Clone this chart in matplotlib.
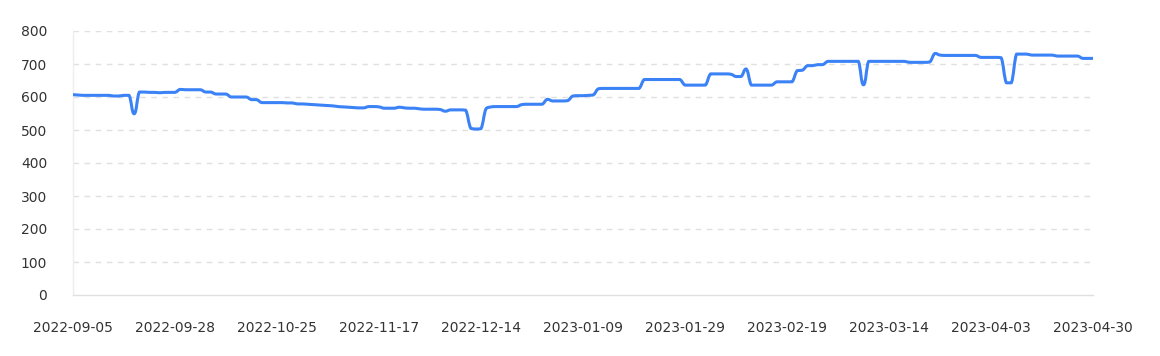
import matplotlib
matplotlib.use("Agg")
import matplotlib.pyplot as plt
from matplotlib.path import Path
from matplotlib.patches import PathPatch
import numpy as np

tick_labels = ["2022-09-05", "2022-09-28", "2022-10-25", "2022-11-17", "2022-12-14",
               "2023-01-09", "2023-01-29", "2023-02-19", "2023-03-14", "2023-04-03",
               "2023-04-30"]
label_every = 20

values = [
    607, 606, 605, 605, 605, 605, 605, 605, 603, 603,
    605, 605, 549, 615, 615, 614, 614, 613, 614, 614,
    614, 623, 622, 622, 622, 622, 615, 615, 609, 609,
    609, 600, 600, 600, 600, 592, 592, 583, 583, 583,
    583, 583, 582, 582, 579, 579, 578, 577, 576, 575,
    574, 573, 571, 570, 569, 568, 567, 567, 571, 571,
    570, 566, 566, 566, 569, 567, 566, 566, 564, 563,
    563, 563, 562, 557, 561, 561, 561, 560, 505, 503,
    504, 565, 570, 571, 571, 571, 571, 571, 577, 578,
    578, 578, 578, 593, 588, 588, 588, 589, 603, 604,
    604, 605, 606, 625, 626, 626, 626, 626, 626, 626,
    626, 626, 653, 653, 653, 653, 653, 653, 653, 653,
    636, 636, 636, 636, 636, 670, 670, 670, 670, 669,
    662, 662, 685, 636, 636, 636, 636, 636, 646, 646,
    646, 646, 680, 681, 695, 695, 698, 698, 708, 708,
    708, 708, 708, 708, 708, 637, 708, 708, 708, 708,
    708, 708, 708, 708, 705, 705, 705, 705, 706, 732,
    727, 726, 726, 726, 726, 726, 726, 726, 720, 720,
    720, 720, 719, 643, 643, 730, 730, 730, 727, 727,
    727, 727, 727, 724, 724, 724, 724, 724, 717, 717,
    717,
]

y_ticks = [0, 100, 200, 300, 400, 500, 600, 700, 800]

plt.rcParams['font.family'] = ['DejaVu Sans']

W, H = 1160, 356
fig = plt.figure(figsize=(W / 100, H / 100), dpi=100)
ax = fig.add_axes([73 / W, 61 / H, 1020 / W, 264 / H])

# smoothed line through the data points (bezier, no overshoot)
x = np.arange(len(values), dtype=float)
y = np.asarray(values, dtype=float)
n = len(x)
verts = [(x[0], y[0])]
codes = [Path.MOVETO]
k = 0.25
for i in range(n - 1):
    ip = max(i - 1, 0)
    inx = min(i + 2, n - 1)
    c1x = x[i] + k * (x[i + 1] - x[ip])
    c1y = y[i] + k * (y[i + 1] - y[ip])
    c2x = x[i + 1] - k * (x[inx] - x[i])
    c2y = y[i + 1] - k * (y[inx] - y[i])
    lo, hi = min(y[i], y[i + 1]), max(y[i], y[i + 1])
    c1y = min(max(c1y, lo), hi)
    c2y = min(max(c2y, lo), hi)
    verts += [(c1x, c1y), (c2x, c2y), (x[i + 1], y[i + 1])]
    codes += [Path.CURVE4, Path.CURVE4, Path.CURVE4]
patch = PathPatch(Path(verts, codes), facecolor="none", edgecolor="#3b82f6",
                  linewidth=2.2, joinstyle="round", capstyle="round", zorder=3)
ax.add_patch(patch)

ax.set_xlim(0, n - 1)
ax.set_ylim(0, 800)

for v in y_ticks[1:]:
    ax.axhline(v, color="#e0e0e0", linewidth=1, linestyle=(0, (4, 4)), zorder=1)

ax.set_yticks(y_ticks)
ax.set_yticklabels([str(v) for v in y_ticks])
ax.set_xticks(np.arange(0, n, label_every))
ax.set_xticklabels(tick_labels)

ax.tick_params(axis="both", length=0, labelsize=10, labelcolor="#333333")
ax.tick_params(axis="y", pad=18.5)
ax.tick_params(axis="x", pad=19)

for s in ["top", "right"]:
    ax.spines[s].set_visible(False)
ax.spines["bottom"].set_color("#e0e0e0")
ax.spines["left"].set_color("#eeeeee")
ax.spines["bottom"].set_linewidth(1)
ax.spines["left"].set_linewidth(1)

fig.savefig("out.png", dpi=100)
